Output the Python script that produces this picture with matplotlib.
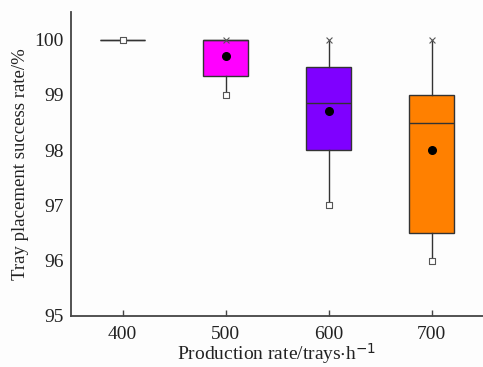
import matplotlib.pyplot as plt
import numpy as np

plt.rcParams['font.family'] = ['Liberation Serif', 'DejaVu Serif']
plt.rcParams['mathtext.default'] = 'regular'

# 数据
rates = [400, 500, 600, 700]
q1 = [100.0, 99.35, 98.0, 96.5]
q3 = [100.0, 100.0, 99.5, 99.0]
med = [100.0, 100.0, 98.85, 98.5]
mean = [100.0, 99.7, 98.7, 98.0]
lo = [100.0, 99.0, 97.0, 96.0]
hi = [100.0, 100.0, 100.0, 100.0]
colors = ['#ffffff', '#ff00ff', '#7f00ff', '#ff8000']

fig = plt.figure(figsize=(4.83, 3.67), dpi=100)
fig.patch.set_facecolor('#fdfdfd')
ax = fig.add_axes([71 / 483, 1 - 316 / 367, 412 / 483, 304 / 367])
ax.set_facecolor('#fdfdfd')

stats = []
for i in range(len(rates)):
    stats.append(dict(q1=q1[i], q3=q3[i], med=med[i], mean=mean[i],
                      whislo=lo[i], whishi=hi[i], fliers=[]))

bp = ax.bxp(stats, positions=rates, widths=44, patch_artist=True,
            showmeans=False, showcaps=False,
            boxprops=dict(edgecolor='#333333', linewidth=1.0),
            medianprops=dict(color='#333333', linewidth=1.0),
            whiskerprops=dict(color='#333333', linewidth=1.0))
for patch, c in zip(bp['boxes'], colors):
    patch.set_facecolor(c)

# 均值、最大值、最小值
ax.scatter(rates[1:], mean[1:], s=30, color='black', zorder=5)
ax.scatter(rates[1:], hi[1:], marker='x', s=18, color='#555555', linewidths=0.8, zorder=5)
ax.scatter(rates, lo, marker='s', s=22, facecolor='white', edgecolor='#555555',
           linewidths=0.8, zorder=6)

ax.set_xlim(350, 750)
ax.set_ylim(95, 100.5)
ax.set_xticks(rates)
ax.set_xticklabels([str(r) for r in rates])
ax.set_yticks([95, 96, 97, 98, 99, 100])
ax.tick_params(axis='both', direction='in', length=4, width=1, color='#444444',
               labelsize=14, labelcolor='#222222')
ax.tick_params(axis='y', length=0, pad=5)
ax.tick_params(axis='x', pad=7)
for s in ['top', 'right']:
    ax.spines[s].set_visible(False)
for s in ['left', 'bottom']:
    ax.spines[s].set_color('#444444')
    ax.spines[s].set_linewidth(1.3)

ax.set_xlabel('Production rate/trays$\\cdot$h$^{\\mathsf{-1}}$', fontsize=14,
              color='#222222', labelpad=-1)
ax.set_ylabel('Tray placement success rate/%', fontsize=13.5, color='#222222', labelpad=4)

fig.savefig('out.png', dpi=100, facecolor=fig.get_facecolor())
